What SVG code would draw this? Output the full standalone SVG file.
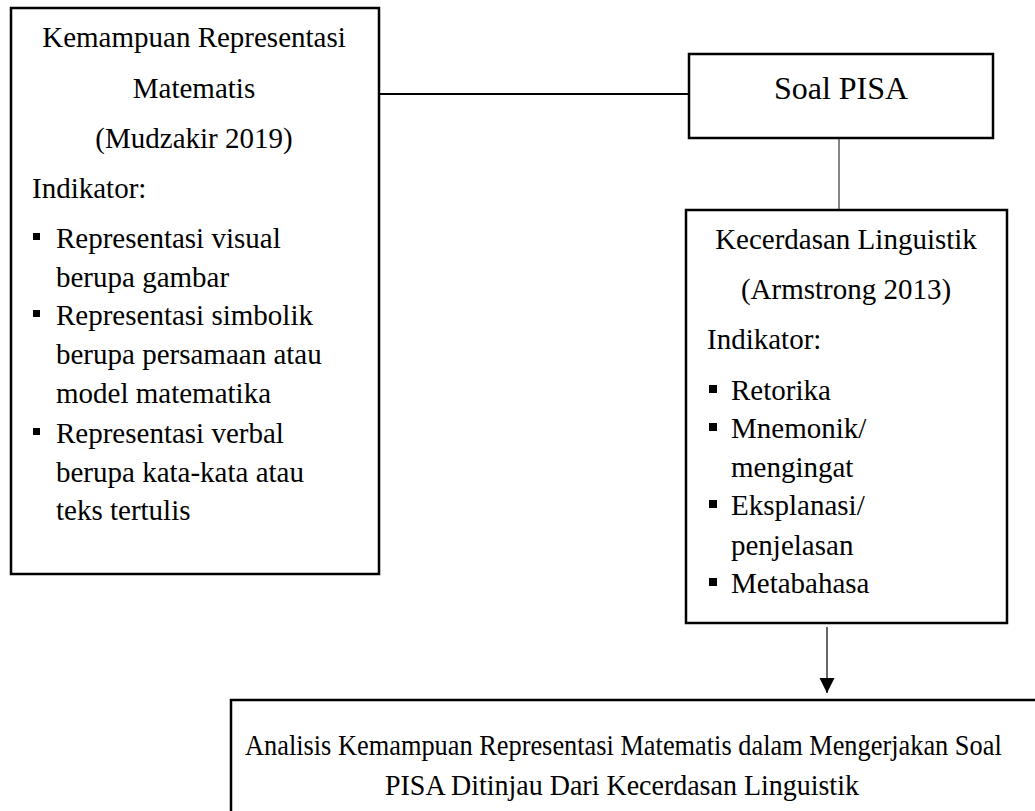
<svg xmlns="http://www.w3.org/2000/svg" width="1035" height="811" viewBox="0 0 1035 811">
<style>
.box{fill:#fff;stroke:#000;stroke-width:2.5}
.t{font-family:"Liberation Serif","Times New Roman",serif;font-size:29px;fill:#000}
.c{text-anchor:middle}
.b{fill:#000}
</style>
<defs>
<marker id="ah" markerWidth="16" markerHeight="16" refX="15" refY="7.5" orient="auto" markerUnits="userSpaceOnUse">
<path d="M0,0 L15,7.5 L0,15 Z" fill="#000"/>
</marker>
</defs>
<rect width="1035" height="811" fill="#fff"/>
<g id="connectors">
<line x1="379" y1="94" x2="689" y2="94" stroke="#000" stroke-width="2.2"/>
<line x1="839" y1="138" x2="839" y2="210" stroke="#444" stroke-width="1.3"/>
<line x1="827" y1="627" x2="827" y2="693" stroke="#000" stroke-width="1.2" marker-end="url(#ah)"/>
</g>
<g id="node-representasi">
<rect class="box" x="11" y="8" width="368" height="566"/>
<text class="t c" x="194" y="47">Kemampuan Representasi</text>
<text class="t c" x="194" y="98">Matematis</text>
<text class="t c" x="194" y="148">(Mudzakir 2019)</text>
<text class="t" x="32" y="198">Indikator:</text>
<rect class="b" x="33" y="233" width="7" height="7"/>
<text class="t" x="56" y="248">Representasi visual</text>
<text class="t" x="56" y="287">berupa gambar</text>
<rect class="b" x="33" y="310" width="7" height="7"/>
<text class="t" x="56" y="325">Representasi simbolik</text>
<text class="t" x="56" y="364">berupa persamaan atau</text>
<text class="t" x="56" y="403">model matematika</text>
<rect class="b" x="33" y="428" width="7" height="7"/>
<text class="t" x="56" y="443">Representasi verbal</text>
<text class="t" x="56" y="482">berupa kata-kata atau</text>
<text class="t" x="56" y="520">teks tertulis</text>
</g>
<g id="node-soal">
<rect class="box" x="689" y="54" width="304" height="84"/>
<text class="t c" x="841" y="99" style="font-size:32px">Soal PISA</text>
</g>
<g id="node-linguistik">
<rect class="box" x="686" y="210" width="321" height="413"/>
<text class="t c" x="846" y="249">Kecerdasan Linguistik</text>
<text class="t c" x="846" y="299">(Armstrong 2013)</text>
<text class="t" x="707" y="349">Indikator:</text>
<rect class="b" x="709" y="385" width="8" height="8"/>
<text class="t" x="731" y="400">Retorika</text>
<rect class="b" x="709" y="423" width="8" height="8"/>
<text class="t" x="731" y="438">Mnemonik/</text>
<text class="t" x="731" y="477">mengingat</text>
<rect class="b" x="709" y="500" width="8" height="8"/>
<text class="t" x="731" y="515">Eksplanasi/</text>
<text class="t" x="731" y="555">penjelasan</text>
<rect class="b" x="709" y="578" width="8" height="8"/>
<text class="t" x="731" y="593">Metabahasa</text>
</g>
<g id="node-analisis">
<rect class="box" x="231" y="700" width="830" height="140"/>
<text class="t" transform="translate(245,755) scale(0.909,1)">Analisis Kemampuan Representasi Matematis dalam Mengerjakan Soal</text>
<text class="t" transform="translate(385,795) scale(0.965,1)">PISA Ditinjau Dari Kecerdasan Linguistik</text>
</g>
</svg>
